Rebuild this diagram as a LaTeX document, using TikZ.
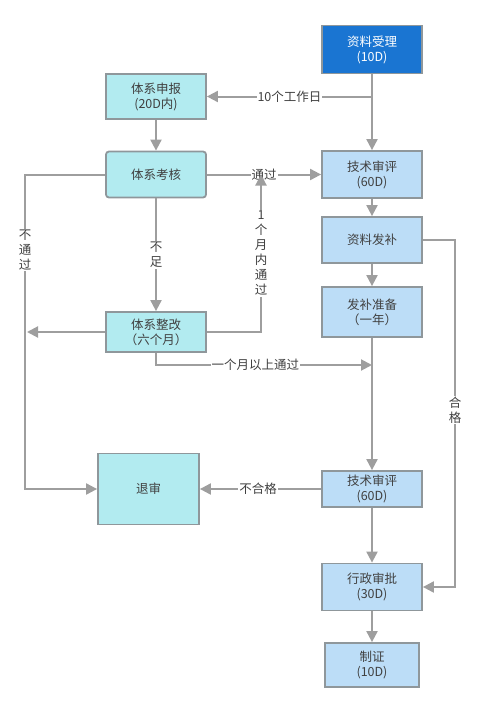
\documentclass[tikz,border=0pt]{standalone}
\usepackage{fontspec}
\setmainfont{Noto Sans CJK SC}
\usetikzlibrary{arrows.meta}
\definecolor{cyanfill}{HTML}{B2EBF0}
\definecolor{bluefill}{HTML}{BCDDF7}
\definecolor{darkblue}{HTML}{1A75D2}
\definecolor{edge}{HTML}{8F979B}
\definecolor{linec}{HTML}{9E9E9E}
\begin{document}
\begin{tikzpicture}[x=1pt,y=-1pt,
  box/.style={draw=edge,line width=1.8pt,minimum width=#1,align=center,font=\fontsize{12.5}{15}\selectfont,text=black!75,inner sep=0pt},
  cbox/.style={box=#1,fill=cyanfill},
  bbox/.style={box=#1,fill=bluefill},
  conn/.style={draw=linec,line width=2pt},
  arr/.style={conn,-{Triangle[length=11pt,width=11pt]}},
  lab/.style={fill=white,inner sep=1pt,font=\fontsize{12.5}{15}\selectfont,text=black!75,align=center}]
\useasboundingbox (0,0) rectangle (478,712);
% nodes
\node[box=100pt,fill=darkblue,text=white,minimum height=48pt] (slsl) at (372,49.5) {资料受理\\(10D)};
\node[cbox=100pt,minimum height=45pt] (txsb) at (156,96.5) {体系申报\\(20D内)};
\node[cbox=100pt,minimum height=46pt,rounded corners=3pt] (txkh) at (156,174.5) {体系考核};
\node[bbox=100pt,minimum height=47pt] (jssp1) at (372,174.5) {技术审评\\(60D)};
\node[bbox=100pt,minimum height=46pt] (zlfb) at (372,240) {资料发补};
\node[bbox=100pt,minimum height=50pt] (fbzb) at (372,312) {发补准备\\（一年）};
\node[cbox=100pt,minimum height=40pt] (txzg) at (156,332) {体系整改\\（六个月）};
\node[cbox=101pt,minimum height=71pt] (ts) at (148.5,489) {退审};
\node[bbox=100pt,minimum height=36pt] (jssp2) at (372,489) {技术审评\\(60D)};
\node[bbox=100pt,minimum height=47pt] (xzsp) at (372,587) {行政审批\\(30D)};
\node[bbox=94pt,minimum height=44pt] (zz) at (372,665) {制证\\(10D)};
% coordinates
\coordinate (c1) at (372,96.5);
\coordinate (c2) at (25,174.5);
\coordinate (c3) at (25,489);
\coordinate (c4) at (261,332);
\coordinate (c5) at (261,174.5);
\coordinate (c6) at (27,332);
\coordinate (c7) at (156,365);
\coordinate (c8) at (372,365);
\coordinate (c9) at (455,240);
\coordinate (c10) at (455,587);
% connectors
\draw[conn] (slsl.south) -- (c1);
\draw[arr] (c1) -- node[lab]{10个工作日} (txsb.east);
\draw[arr] (c1) -- (jssp1.north);
\draw[arr] (txsb.south) -- (txkh.north);
\draw[arr] (txkh.east) -- node[lab,pos=0.5]{通过} (jssp1.west);
\draw[arr] (jssp1.south) -- (zlfb.north);
\draw[arr] (zlfb.south) -- (fbzb.north);
\draw[arr] (fbzb.south) -- (jssp2.north);
\draw[arr] (txkh.south) -- node[lab,pos=0.5]{不\\足} (txzg.north);
\draw[arr] (txkh.west) -- (c2) -- node[lab,pos=0.24]{不\\通\\过} (c3) -- (ts.west);
\draw[arr] (txzg.east) -- (c4) -- node[lab,pos=0.5]{1\\个\\月\\内\\通\\过} (c5);
\draw[arr] (txzg.west) -- (c6);
\draw[arr] (txzg.south) -- (c7) -- node[lab,pos=0.46]{一个月以上通过} (c8);
\draw[arr] (jssp2.west) -- node[lab,pos=0.52]{不合格} (ts.east);
\draw[arr] (zlfb.east) -- (c9) -- node[lab,pos=0.49]{合\\格} (c10) -- (xzsp.east);
\draw[arr] (jssp2.south) -- (xzsp.north);
\draw[arr] (xzsp.south) -- (zz.north);
\end{tikzpicture}
\end{document}
